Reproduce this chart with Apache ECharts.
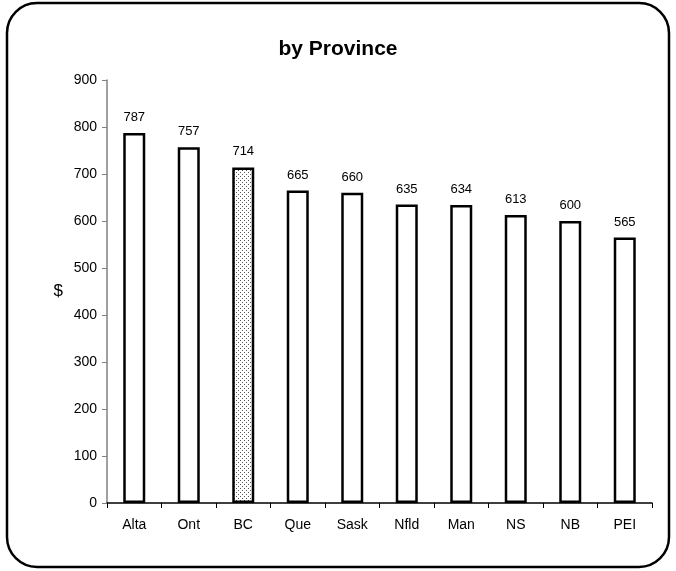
<!DOCTYPE html>
<html><head><meta charset="utf-8">
<script src="https://cdn.jsdelivr.net/npm/echarts@6/dist/echarts.min.js"></script>
<style>html,body{margin:0;padding:0;background:#fff}#c{width:676px;height:571px}</style>
</head><body><div id="c"></div>
<script>
const categories = ['Alta','Ont','BC','Que','Sask','Nfld','Man','NS','NB','PEI'];
const values = [787,757,714,665,660,635,634,613,600,565];
const highlight = 'BC';

const pc = document.createElement('canvas');
pc.width = 4; pc.height = 4;
const g = pc.getContext('2d');
g.fillStyle = '#ffffff'; g.fillRect(0,0,4,4);
g.fillStyle = '#555555'; g.fillRect(0,0,1,1); g.fillRect(2,2,1,1);

const F = 'Liberation Sans, Arial';
const chart = echarts.init(document.getElementById('c'));
chart.setOption({
  animation:false,
  graphic:[{type:'rect',shape:{x:7,y:3,width:662,height:564,r:30},style:{fill:'none',stroke:'#000',lineWidth:2.5}}],
  title:{text:'by Province',left:'center',top:34,textStyle:{fontFamily:F,fontSize:21,fontWeight:'bold',color:'#000'}},
  grid:{left:107,right:24,top:80,bottom:68},
  xAxis:{type:'category',data:categories,
    axisLine:{lineStyle:{color:'#000',width:1.5}},
    axisTick:{show:true,length:5,alignWithLabel:false,lineStyle:{color:'#000'}},
    axisLabel:{color:'#000',fontFamily:F,fontSize:14,margin:15}},
  yAxis:{type:'value',min:0,max:900,interval:100,name:'$',nameLocation:'middle',nameRotate:0,nameGap:44,
    nameTextStyle:{fontFamily:F,fontSize:17,color:'#000'},
    axisLine:{show:true,lineStyle:{color:'#808080',width:1.5}},
    axisTick:{show:true,length:5,lineStyle:{color:'#808080'}},
    splitLine:{show:false},
    axisLabel:{color:'#000',fontFamily:F,fontSize:14,margin:10}},
  series:[{type:'bar',barWidth:22,
    data:values.map((v,i)=>({value:v,itemStyle:categories[i]===highlight?{color:{image:pc,repeat:'repeat'}}:{}})),
    itemStyle:{color:'#fff',borderColor:'#000',borderWidth:2.5},
    label:{show:true,position:'top',distance:9,color:'#000',fontFamily:F,fontSize:13}}]
});
</script></body></html>
